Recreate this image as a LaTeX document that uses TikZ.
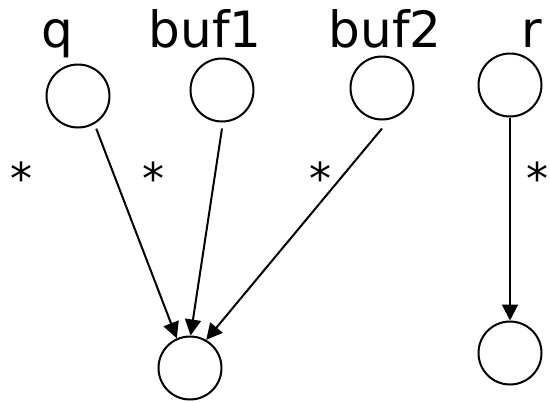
\documentclass[tikz,border=0pt]{standalone}
\usepackage{fontspec}
\setmainfont{DejaVu Sans}
\usetikzlibrary{arrows.meta}
\begin{document}
\begin{tikzpicture}[x=1pt,y=-1pt,
  vertex/.style={circle,draw,line width=2pt,minimum size=63pt,inner sep=0pt},
  title/.style={anchor=base,inner sep=0pt,font=\fontsize{50}{60}\selectfont},
  mult/.style={anchor=base,inner sep=0pt,font=\fontsize{44}{52}\selectfont},
  edge/.style={line width=2pt,-{Triangle[length=16pt,width=16pt]}}]
  \useasboundingbox (0,0) rectangle (550,402);

  % source vertices
  \node[vertex] (q)    at (78,96)  {};
  \node[vertex] (buf1) at (222,90) {};
  \node[vertex] (buf2) at (382,88) {};
  \node[vertex] (r)    at (510,85) {};

  % target vertices
  \node[vertex] (t1) at (190,368) {};
  \node[vertex] (t2) at (510,353) {};

  % names above the vertices
  \node[title] (lq)    at (57,47)  {q};
  \node[title] (lbuf1) at (205,47) {buf1};
  \node[title] (lbuf2) at (385,47) {buf2};
  \node[title] (lr)    at (532,47) {r};

  % multiplicity marks
  \node[mult] (m1) at (21,194)  {*};
  \node[mult] (m2) at (153,194) {*};
  \node[mult] (m3) at (320,194) {*};
  \node[mult] (m4) at (537,194) {*};

  % connectors
  \draw[edge] ([shift={(3pt,-4pt)}]q.298)  -- (t1.114);
  \draw[edge] ([yshift=-6pt]buf1.south)    -- (t1.89);
  \draw[edge] ([yshift=-8pt]buf2.south)    -- (t1.60);
  \draw[edge] (r.south)                    -- (t2.north);
\end{tikzpicture}
\end{document}
